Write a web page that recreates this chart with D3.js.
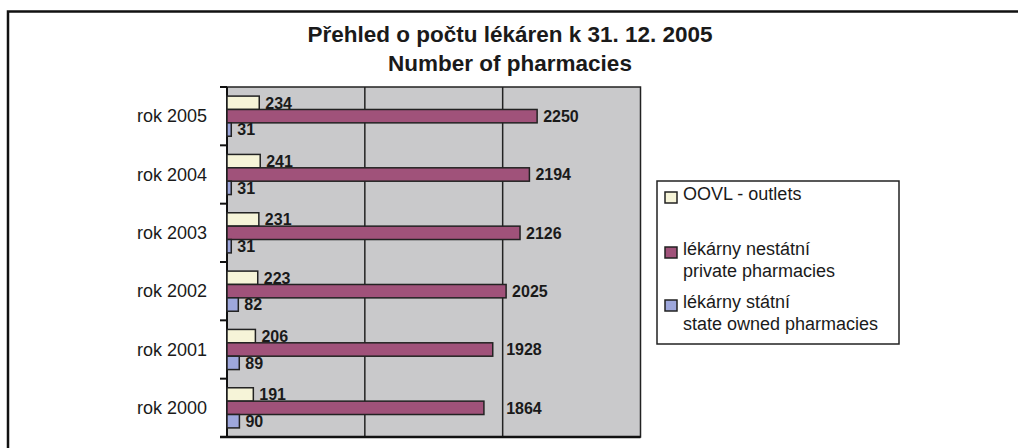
<!DOCTYPE html>
<html>
<head>
<meta charset="utf-8">
<script src="https://cdn.jsdelivr.net/npm/d3@7"></script>
<style>
  body { margin: 0; background: #fff; }
  text { font-family: "Liberation Sans", Arial, sans-serif; fill: #1a1a1a; }
</style>
</head>
<body>
<div id="chart"></div>
<script>
// data
var years = ["rok 2005", "rok 2004", "rok 2003", "rok 2002", "rok 2001", "rok 2000"];
var series = ["oovl", "private", "state"];
var oovl = [234, 241, 231, 223, 206, 191];
var privatePh = [2250, 2194, 2126, 2025, 1928, 1864];
var statePh = [31, 31, 31, 82, 89, 90];
var gridTicks = [1000, 2000];
var titleLines = ["Přehled o počtu lékáren k 31. 12. 2005", "Number of pharmacies"];
var legendLabels = [["OOVL - outlets"], ["lékárny nestátní", "private pharmacies"], ["lékárny státní", "state owned pharmacies"]];

var colors = {oovl: "#f6f4d8", private: "#a0527a", state: "#9ea7dc"};

var width = 1018, height = 448;
var plot = {left: 227, right: 640.5, top: 87, bottom: 437};

var svg = d3.select("#chart").append("svg")
    .attr("width", width)
    .attr("height", height);

// outer frame (top + left edge visible)
svg.append("path")
    .attr("d", "M8,448 V11.5 H1018")
    .attr("fill", "none")
    .attr("stroke", "#111")
    .attr("stroke-width", 2.5);

// title
svg.selectAll(".title")
  .data(titleLines)
  .enter()
  .append("text")
    .attr("x", 510)
    .attr("y", function(d, i) { return 42 + i * 29; })
    .attr("text-anchor", "middle")
    .style("font-size", "22.5px")
    .style("font-weight", "bold")
    .text(function(d) { return d; });

var x = d3.scaleLinear()
    .domain([0, 3000])
    .range([plot.left, plot.right]);

var y = d3.scaleBand()
    .domain(years)
    .range([plot.top, plot.bottom]);

var ySub = d3.scaleBand()
    .domain(series)
    .range([0, y.bandwidth()])
    .paddingInner(0)
    .paddingOuter(0.68);

// plot background
svg.append("rect")
    .attr("x", x(0))
    .attr("y", plot.top)
    .attr("width", x(3000) - x(0))
    .attr("height", plot.bottom - plot.top)
    .attr("fill", "#c9c9cb")
    .attr("stroke", "#222")
    .attr("stroke-width", 1.5);

// gridlines
svg.selectAll(".grid")
  .data(gridTicks)
  .enter()
  .append("line")
    .attr("x1", function(d) { return x(d); })
    .attr("x2", function(d) { return x(d); })
    .attr("y1", plot.top)
    .attr("y2", plot.bottom)
    .attr("stroke", "#222")
    .attr("stroke-width", 1.5);

// left category axis: ticks at band edges
var edges = years.map(function(d) { return y(d); }).concat([plot.bottom]);
svg.selectAll(".tick")
  .data(edges)
  .enter()
  .append("line")
    .attr("x1", plot.left - 7)
    .attr("x2", plot.left)
    .attr("y1", function(d) { return d; })
    .attr("y2", function(d) { return d; })
    .attr("stroke", "#111")
    .attr("stroke-width", 2);

svg.append("line")
    .attr("x1", plot.left).attr("x2", plot.left)
    .attr("y1", plot.top).attr("y2", plot.bottom)
    .attr("stroke", "#111").attr("stroke-width", 2);

svg.append("line")
    .attr("x1", plot.left - 7).attr("x2", plot.right)
    .attr("y1", plot.bottom).attr("y2", plot.bottom)
    .attr("stroke", "#111").attr("stroke-width", 2.5);

// category labels
svg.selectAll(".cat")
  .data(years)
  .enter()
  .append("text")
    .attr("x", 207)
    .attr("y", function(d) { return y(d) + y.bandwidth() / 2; })
    .attr("dy", "0.35em")
    .attr("text-anchor", "end")
    .style("font-size", "18px")
    .text(function(d) { return d; });

// bars
var rows = years.map(function(yr, i) {
  return {year: yr, vals: [
    {key: "oovl", value: oovl[i]},
    {key: "private", value: privatePh[i]},
    {key: "state", value: statePh[i]}
  ]};
});

var groups = svg.selectAll(".grp")
  .data(rows)
  .enter()
  .append("g")
    .attr("transform", function(d) { return "translate(0," + y(d.year) + ")"; });

groups.selectAll("rect")
  .data(function(d) { return d.vals; })
  .enter()
  .append("rect")
    .attr("x", x(0))
    .attr("y", function(d) { return ySub(d.key); })
    .attr("width", function(d) { return x(d.value) - x(0); })
    .attr("height", ySub.bandwidth())
    .attr("fill", function(d) { return colors[d.key]; })
    .attr("stroke", "#222")
    .attr("stroke-width", 1.5);

// value labels, nudged past a gridline if they would sit on it
groups.selectAll(".val")
  .data(function(d) { return d.vals; })
  .enter()
  .append("text")
    .attr("x", function(d) {
      var start = x(d.value) + 6;
      var w = String(d.value).length * 8.8;
      gridTicks.forEach(function(g) {
        if (start < x(g) && start + w > x(g)) start = x(g) + 3.5;
      });
      return start;
    })
    .attr("y", function(d) { return ySub(d.key) + ySub.bandwidth() / 2; })
    .attr("dy", "0.36em")
    .style("font-size", "16px")
    .style("font-weight", "bold")
    .text(function(d) { return d.value; });

// legend
var legend = svg.append("g");
legend.append("rect")
    .attr("x", 657)
    .attr("y", 181)
    .attr("width", 242)
    .attr("height", 163)
    .attr("fill", "#fff")
    .attr("stroke", "#222")
    .attr("stroke-width", 1.5);

var legendY = [200, 255, 308];
var items = legend.selectAll(".item")
  .data(series)
  .enter()
  .append("g")
    .attr("transform", function(d, i) { return "translate(0," + legendY[i] + ")"; });

items.append("rect")
    .attr("x", 665)
    .attr("y", -8)
    .attr("width", 12)
    .attr("height", 11)
    .attr("fill", function(d) { return colors[d]; })
    .attr("stroke", "#222")
    .attr("stroke-width", 1.5);

items.each(function(d, i) {
  d3.select(this).selectAll("text")
    .data(legendLabels[i])
    .enter()
    .append("text")
      .attr("x", 683)
      .attr("y", function(t, j) { return j * 22; })
      .style("font-size", "18px")
      .text(function(t) { return t; });
});
</script>
</body>
</html>
